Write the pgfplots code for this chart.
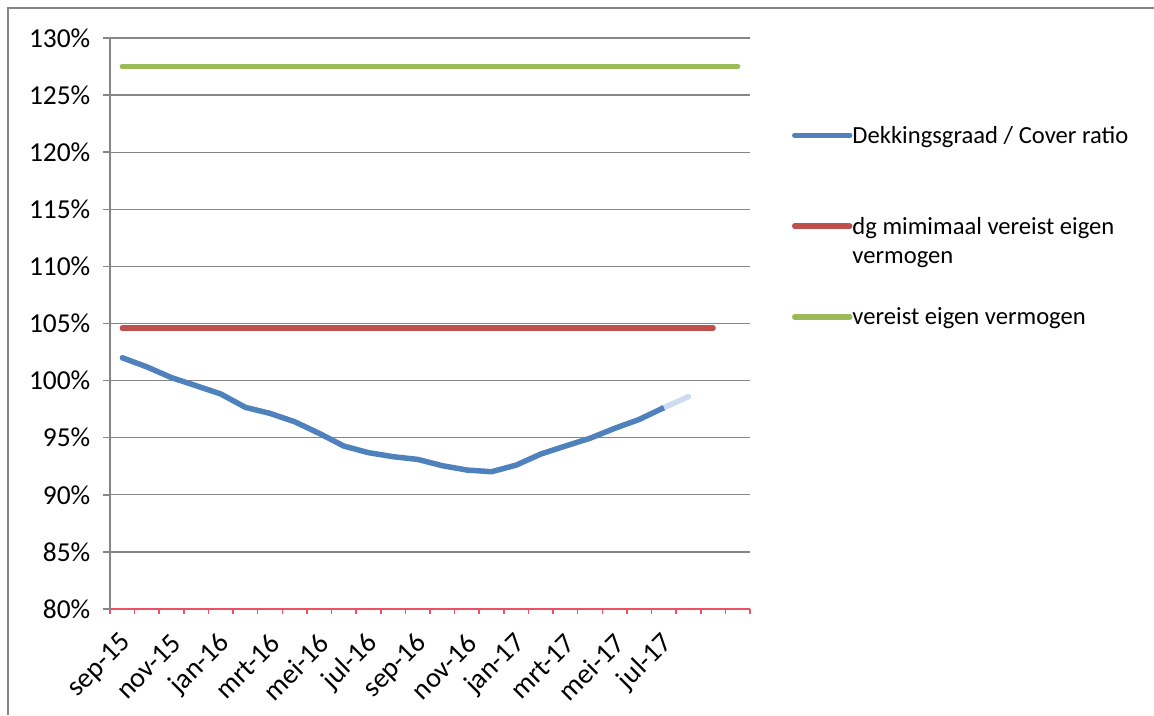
\documentclass[border=0pt]{standalone}
\usepackage{fontspec}
\setmainfont{Carlito}
\usepackage{pgfplots}
\pgfplotsset{compat=1.18}

\definecolor{dgblue}{RGB}{79,129,189}
\definecolor{dgfade}{RGB}{205,220,240}
\definecolor{dgred}{RGB}{192,80,77}
\definecolor{dggreen}{RGB}{155,187,89}
\definecolor{gridgray}{RGB}{134,134,134}
\definecolor{axispink}{RGB}{238,80,100}

% fixed height/depth so that every legend row takes the same room
\newcommand{\entry}[1]{\raisebox{0pt}[2.2mm][0.8mm]{#1}}
\newcommand{\yfont}{\fontsize{7.8}{8.25}\selectfont}
\newcommand{\xfont}{\fontsize{8.0}{9}\selectfont}
\newcommand{\legfont}{\fontsize{7.0}{8.25}\selectfont}

\begin{document}
\begin{tikzpicture}[x=1mm,y=1mm]
\useasboundingbox (0,0) rectangle (115.4,71.5);
\draw[gridgray, line width=0.15mm] (0.8,0) -- (0.8,70.7) -- (115.4,70.7);
\begin{axis}[
    at={(11mm,10.6mm)}, anchor=south west,
    scale only axis, width=64mm, height=57.1mm,
    xmin=-0.5, xmax=25.5,
    ymin=80, ymax=130,
    axis x line*=bottom, axis y line*=left,
    x axis line style={axispink, line width=0.15mm},
    y axis line style={gridgray, line width=0.15mm},
    tick align=outside,
    major tick length=0.7mm,
    minor tick length=0.5mm,
    xtick={0,2,...,22},
    xticklabels={sep-15,nov-15,jan-16,mrt-16,mei-16,jul-16,sep-16,nov-16,jan-17,mrt-17,mei-17,jul-17},
    minor xtick={-0.5,0.5,...,25.5},
    major x tick style={draw=none},
    minor x tick style={axispink, line width=0.15mm},
    ytick={80,85,...,130},
    yticklabels={80\%,85\%,90\%,95\%,100\%,105\%,110\%,115\%,120\%,125\%,130\%},
    major y tick style={gridgray, line width=0.15mm},
    ymajorgrids=true,
    grid style={gridgray, line width=0.13mm},
    % shifts below act in the rotated frame of the label
    xticklabel style={font=\xfont, rotate=45, anchor=east, inner sep=0pt, yshift=-1.96mm, xshift=-1.2mm},
    yticklabel style={font=\yfont, anchor=east, inner sep=0pt, xshift=-1.2mm},
    legend style={at={(1.0656,0.8541)}, anchor=north west, draw=none, fill=none,
        inner sep=0pt, outer sep=0pt, row sep=6.35mm,
        nodes={inner sep=0pt, anchor=base west, font=\legfont, xshift=0.5mm}},
    legend image code/.code={\draw[#1] (0mm,0.8mm) -- (5.5mm,0.8mm);},
]
\addplot[dgblue, line width=0.55mm, line cap=round, line join=round] coordinates {
    (0,102.0)(1,101.2)(2,100.26)(3,99.55)(4,98.83)(5,97.66)(6,97.13)(7,96.4)
    (8,95.38)(9,94.27)(10,93.69)(11,93.34)(12,93.1)(13,92.55)(14,92.17)(15,92.02)
    (16,92.6)(17,93.57)(18,94.27)(19,94.95)(20,95.82)(21,96.6)(22,97.63)
};
\addlegendentry{\entry{Dekkingsgraad / Cover ratio}}
\addplot[dgred, line width=0.55mm, line cap=round] coordinates {
    (0,104.6)(1,104.6)(2,104.6)(3,104.6)(4,104.6)(5,104.6)(6,104.6)(7,104.6)
    (8,104.6)(9,104.6)(10,104.6)(11,104.6)(12,104.6)(13,104.6)(14,104.6)(15,104.6)
    (16,104.6)(17,104.6)(18,104.6)(19,104.6)(20,104.6)(21,104.6)(22,104.6)(23,104.6)
    (24,104.6)
};
\addlegendentry{\entry{\begin{tabular}[t]{@{}l@{}}dg mimimaal vereist eigen\\vermogen\end{tabular}}}
\addplot[dggreen, line width=0.55mm, line cap=round] coordinates {
    (0,127.5)(1,127.5)(2,127.5)(3,127.5)(4,127.5)(5,127.5)(6,127.5)(7,127.5)
    (8,127.5)(9,127.5)(10,127.5)(11,127.5)(12,127.5)(13,127.5)(14,127.5)(15,127.5)
    (16,127.5)(17,127.5)(18,127.5)(19,127.5)(20,127.5)(21,127.5)(22,127.5)(23,127.5)
    (24,127.5)(25,127.5)
};
\addlegendentry{\entry{vereist eigen vermogen}}
% last, still provisional month in a paler blue
\addplot[dgfade, line width=0.55mm, line cap=round, forget plot] coordinates {
    (22,97.63)(23,98.6)
};
\addplot[dgblue, line width=0.55mm, forget plot] coordinates {(21.9,97.53)(22,97.63)};
\end{axis}
\end{tikzpicture}
\end{document}
